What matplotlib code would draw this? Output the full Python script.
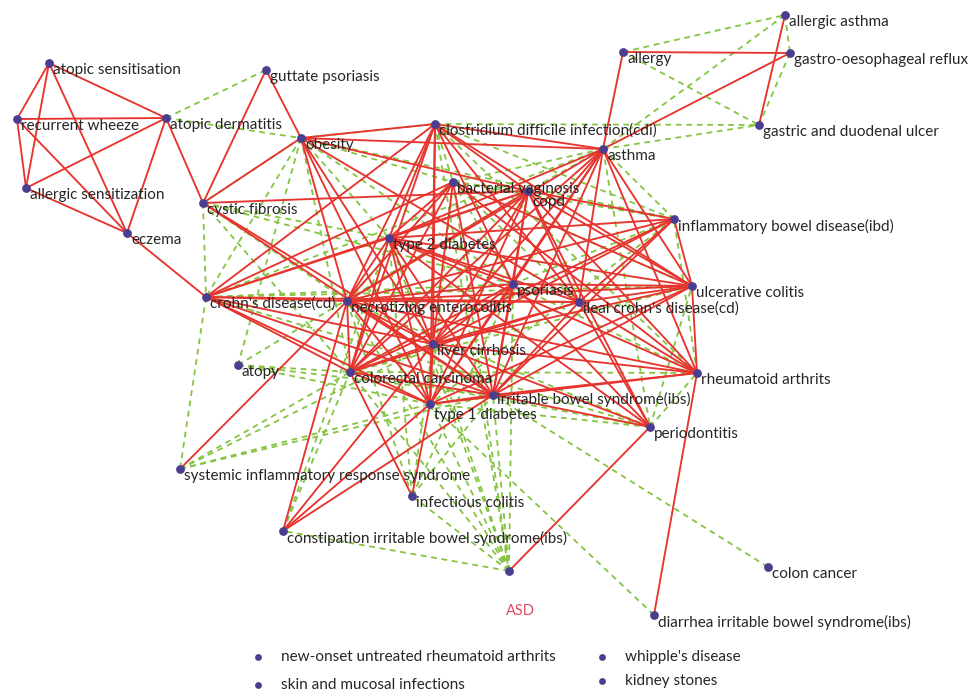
import matplotlib
matplotlib.use("Agg")
import matplotlib.pyplot as plt

# ---- nodes -------------------------------------------------------------
node_keys = [
    "as_sens", "wheeze", "at_derm", "all_sens", "eczema", "guttate", "cf",
    "obesity", "cdi", "bv", "copd", "t2d", "cd", "nec", "psoriasis", "ileal",
    "uc", "ibd", "asthma", "allergy", "all_asthma", "gerd", "ulcer", "liver",
    "atopy", "crc", "t1d", "ibs", "ra", "perio", "sirs", "inf_col", "c_ibs",
    "asd", "colon", "d_ibs",
]
node_labels = [
    "atopic sensitisation", "recurrent wheeze", "atopic dermatitis",
    "allergic sensitization", "eczema", "guttate psoriasis", "cystic fibrosis",
    "obesity", "clostridium difficile infection(cdi)", "bacterial vaginosis",
    "copd", "type 2 diabetes", "crohn's disease(cd)", "necrotizing enterocolitis",
    "psoriasis", "ileal crohn's disease(cd)", "ulcerative colitis",
    "inflammatory bowel disease(ibd)", "asthma", "allergy", "allergic asthma",
    "gastro-oesophageal reflux", "gastric and duodenal ulcer", "liver cirrhosis",
    "atopy", "colorectal carcinoma", "type 1 diabetes",
    "irritable bowel syndrome(ibs)", "rheumatoid arthrits", "periodontitis",
    "systemic inflammatory response syndrome", "infectious colitis",
    "constipation irritable bowel syndrome(ibs)", "", "colon cancer",
    "diarrhea irritable bowel syndrome(ibs)",
]

# layout (pixel space of the canvas)
layout_x = [49, 17, 166, 26, 127, 266, 203, 301, 435, 453, 528, 389, 206, 347,
            513, 579, 692, 674, 603, 623, 785, 790, 759, 433, 238, 350, 430,
            493, 697, 650, 180, 412, 283, 509, 768, 654]
layout_y = [63, 119, 118, 188, 233, 70, 203, 138, 124, 182, 191, 238, 297, 301,
            284, 302, 286, 219, 149, 52, 15, 53, 125, 344, 365, 372, 404, 395,
            373, 427, 469, 496, 531, 571, 567, 615]
# per-label vertical offset (most labels sit just below-right of their node)
label_dy = {"copd": 11, "t1d": 11, "ibs": 4}

# unconnected nodes listed underneath the network
isolated_labels = ["new-onset untreated rheumatoid arthrits",
                   "skin and mucosal infections",
                   "whipple's disease", "kidney stones"]
isolated_x = [258, 258, 602, 602]
isolated_y = [657, 685, 657, 681]

# ---- edges -------------------------------------------------------------
solid_edges = [
    ("as_sens", "wheeze"), ("as_sens", "all_sens"), ("as_sens", "eczema"),
    ("as_sens", "at_derm"), ("wheeze", "at_derm"), ("wheeze", "all_sens"),
    ("wheeze", "eczema"), ("all_sens", "at_derm"), ("all_sens", "eczema"),
    ("at_derm", "eczema"), ("at_derm", "cf"), ("eczema", "cd"),
    ("guttate", "cf"), ("guttate", "obesity"), ("cf", "obesity"),
    ("allergy", "gerd"), ("allergy", "asthma"), ("all_asthma", "ulcer"),
    ("gerd", "asthma"),
    ("obesity", "cdi"), ("obesity", "asthma"), ("obesity", "copd"),
    ("obesity", "liver"), ("obesity", "ileal"), ("obesity", "t1d"),
    ("obesity", "nec"), ("cf", "copd"), ("cf", "liver"), ("cf", "ibs"),
    ("cdi", "asthma"), ("cdi", "copd"), ("cdi", "t2d"), ("cdi", "nec"),
    ("cdi", "liver"), ("cdi", "t1d"), ("cdi", "crc"), ("cdi", "psoriasis"),
    ("cdi", "uc"), ("cdi", "ileal"), ("cdi", "cd"),
    ("bv", "t2d"), ("bv", "nec"), ("bv", "crc"), ("bv", "liver"),
    ("bv", "ibs"), ("bv", "ra"), ("bv", "uc"), ("bv", "cd"),
    ("copd", "t2d"), ("copd", "cd"), ("copd", "nec"), ("copd", "liver"),
    ("copd", "t1d"), ("copd", "ibs"), ("copd", "psoriasis"), ("copd", "ileal"),
    ("copd", "uc"), ("copd", "ra"), ("copd", "ibd"), ("copd", "perio"),
    ("copd", "crc"),
    ("asthma", "t2d"), ("asthma", "nec"), ("asthma", "liver"),
    ("asthma", "crc"), ("asthma", "ibs"), ("asthma", "ileal"),
    ("asthma", "uc"), ("asthma", "ra"), ("asthma", "psoriasis"),
    ("asthma", "t1d"),
    ("t2d", "cd"), ("t2d", "nec"), ("t2d", "liver"), ("t2d", "psoriasis"),
    ("t2d", "ileal"), ("t2d", "uc"), ("t2d", "ibd"), ("t2d", "ibs"),
    ("t2d", "t1d"), ("t2d", "crc"), ("t2d", "ra"), ("t2d", "perio"),
    ("cd", "nec"), ("cd", "liver"), ("cd", "crc"), ("cd", "ibs"),
    ("cd", "t1d"), ("cd", "ileal"),
    ("nec", "psoriasis"), ("nec", "ileal"), ("nec", "uc"), ("nec", "liver"),
    ("nec", "crc"), ("nec", "ibs"), ("nec", "t1d"), ("nec", "ibd"),
    ("nec", "ra"), ("nec", "sirs"), ("nec", "c_ibs"),
    ("psoriasis", "ibs"), ("psoriasis", "uc"), ("psoriasis", "liver"),
    ("psoriasis", "perio"), ("psoriasis", "crc"), ("psoriasis", "t1d"),
    ("ileal", "uc"), ("ileal", "ibs"), ("ileal", "liver"), ("ileal", "ra"),
    ("ileal", "ibd"), ("ileal", "perio"), ("ileal", "crc"),
    ("uc", "ibs"), ("uc", "ra"), ("uc", "liver"), ("uc", "ibd"), ("uc", "t1d"),
    ("ibd", "ibs"), ("ibd", "liver"), ("ibd", "crc"),
    ("liver", "crc"), ("liver", "ibs"), ("liver", "t1d"), ("liver", "perio"),
    ("liver", "ra"), ("liver", "c_ibs"),
    ("crc", "t1d"), ("crc", "ibs"), ("crc", "inf_col"),
    ("t1d", "ibs"), ("t1d", "inf_col"), ("t1d", "c_ibs"), ("t1d", "ra"),
    ("ibs", "ra"), ("ibs", "perio"), ("ibs", "c_ibs"),
    ("ra", "d_ibs"), ("perio", "asd"),
]

dashed_edges = [
    ("at_derm", "guttate"), ("at_derm", "obesity"), ("obesity", "cdi"),
    ("allergy", "all_asthma"), ("allergy", "ulcer"), ("asthma", "all_asthma"),
    ("asthma", "ulcer"), ("all_asthma", "gerd"), ("gerd", "ulcer"),
    ("cdi", "ulcer"),
    ("obesity", "cf"), ("obesity", "t2d"), ("obesity", "cd"),
    ("obesity", "crc"), ("obesity", "bv"), ("obesity", "psoriasis"),
    ("obesity", "ibd"), ("obesity", "atopy"),
    ("cf", "t2d"), ("cf", "nec"), ("cf", "psoriasis"), ("cf", "crc"),
    ("cf", "cd"),
    ("cdi", "bv"), ("cdi", "ibd"), ("cdi", "ra"), ("cdi", "asd"),
    ("asthma", "ibd"), ("asthma", "bv"), ("asthma", "copd"),
    ("asthma", "perio"), ("asthma", "cd"),
    ("bv", "copd"), ("bv", "psoriasis"), ("bv", "ileal"), ("bv", "ibd"),
    ("bv", "t1d"), ("bv", "asd"),
    ("cd", "sirs"), ("cd", "perio"), ("cd", "psoriasis"), ("cd", "uc"),
    ("atopy", "crc"), ("atopy", "ibs"), ("atopy", "copd"), ("atopy", "t1d"),
    ("sirs", "t1d"), ("sirs", "ibs"), ("sirs", "liver"), ("sirs", "crc"),
    ("asd", "ibs"), ("asd", "psoriasis"), ("asd", "t1d"), ("asd", "liver"),
    ("asd", "crc"), ("asd", "nec"), ("asd", "c_ibs"), ("asd", "inf_col"),
    ("asd", "t2d"),
    ("colon", "ibs"), ("d_ibs", "t1d"),
    ("inf_col", "t2d"), ("inf_col", "liver"), ("inf_col", "nec"),
    ("inf_col", "ibs"), ("inf_col", "psoriasis"),
    ("c_ibs", "crc"), ("c_ibs", "t2d"),
    ("perio", "t1d"), ("perio", "crc"), ("perio", "ra"), ("perio", "uc"),
    ("perio", "nec"),
    ("ra", "crc"), ("ra", "psoriasis"), ("ra", "ibd"),
    ("ibd", "psoriasis"), ("ibd", "t1d"),
    ("uc", "bv"), ("uc", "crc"),
    ("t2d", "crc"), ("nec", "bv"), ("liver", "psoriasis"),
]

# ---- styling -----------------------------------------------------------
RED = "#e6352e"
GREEN = "#84c441"
NODE = "#4b3d8f"
TEXT = "#262626"

plt.rcParams["font.family"] = ["Lato", "DejaVu Sans"]

fig = plt.figure(figsize=(9.77, 6.94), dpi=100)
ax = fig.add_axes([0, 0, 1, 1])
ax.set_xlim(0, 977)
ax.set_ylim(694, 0)
ax.axis("off")

pos = {k: (x, y) for k, x, y in zip(node_keys, layout_x, layout_y)}

for a, b in dashed_edges:
    (x0, y0), (x1, y1) = pos[a], pos[b]
    ax.plot([x0, x1], [y0, y1], color=GREEN, lw=1.3,
            dashes=(3.2, 2.6), zorder=1)

for a, b in solid_edges:
    (x0, y0), (x1, y1) = pos[a], pos[b]
    ax.plot([x0, x1], [y0, y1], color=RED, lw=1.35, zorder=2)

ax.scatter(layout_x, layout_y, s=40, color=NODE, zorder=3, linewidths=0)

for key, lab, x, y in zip(node_keys, node_labels, layout_x, layout_y):
    if lab:
        ax.text(x + 4, y + label_dy.get(key, 7), lab, fontsize=11,
                color=TEXT, ha="left", va="center", zorder=4)

ax.text(520, 611, "ASD", fontsize=10.5, color="#e04a66",
        ha="center", va="center", zorder=4)

ax.scatter(isolated_x, isolated_y, s=24, color=NODE, zorder=3, linewidths=0)
for lab, x, y in zip(isolated_labels, isolated_x, isolated_y):
    ax.text(x + 23, y, lab, fontsize=11, color=TEXT,
            ha="left", va="center", zorder=4)

fig.savefig("out.png", dpi=100, facecolor="white")
